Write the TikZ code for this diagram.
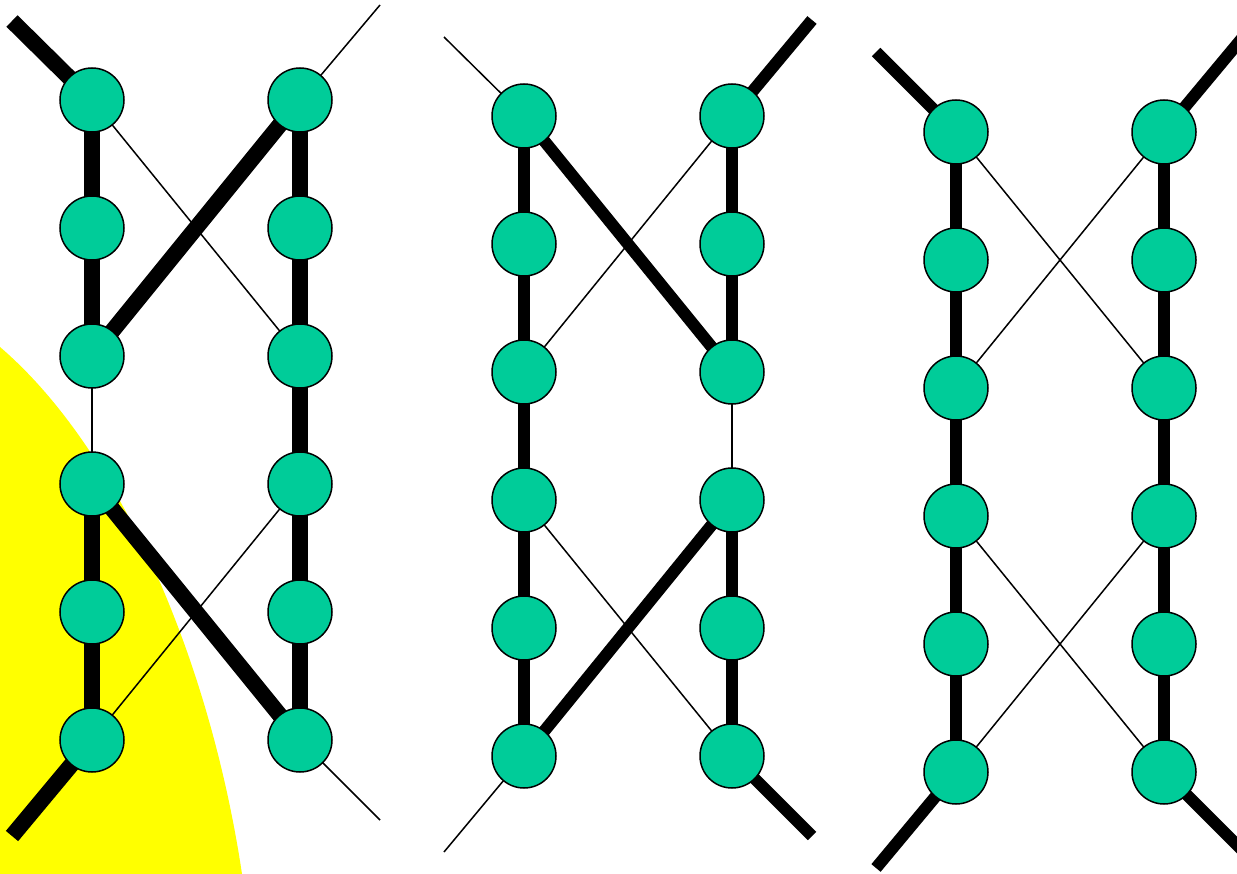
\documentclass[tikz,border=0pt]{standalone}
\usetikzlibrary{backgrounds}
\definecolor{nodegreen}{RGB}{0,204,153}
\definecolor{hiyellow}{RGB}{255,255,0}
\begin{document}
\begin{tikzpicture}[x=1pt,y=-1pt,
  dot/.style={circle,draw=black,line width=1.5pt,fill=nodegreen,minimum size=64pt,inner sep=0pt},
  fineline/.style={draw=black,line width=1.5pt},
  heavyA/.style={draw=black,line width=16pt},
  heavyB/.style={draw=black,line width=12pt}]
\useasboundingbox (0,0) rectangle (1237,874);
\clip (0,0) rectangle (1237,874);
% nodes
\foreach \p/\lx/\ty in {1/92/100, 2/524/116, 3/956/132} {
  \foreach \i in {1,...,6} {
    \node[dot] (p\p L\i) at (\lx, {\ty+128*(\i-1)}) {};
    \node[dot] (p\p R\i) at ({\lx+208}, {\ty+128*(\i-1)}) {};
  }
}
% free ends
\coordinate (p1TL) at (12,21);
\coordinate (p1TR) at (380,5);
\coordinate (p1BL) at (12,836);
\coordinate (p1BR) at (380,820);
\coordinate (p2TL) at (444,37);
\coordinate (p2TR) at (812,20);
\coordinate (p2BL) at (444,852);
\coordinate (p2BR) at (812,836);
\coordinate (p3TL) at (876,52);
\coordinate (p3TR) at (1244,36);
\coordinate (p3BL) at (876,868);
\coordinate (p3BR) at (1244,852);
\begin{scope}[on background layer]
  \fill[hiyellow] (0,347) .. controls (120,450) and (210,660) .. (242,874) -- (244,880) -- (0,880) -- cycle;
  % panel 1
  \draw[heavyA] (p1TL) -- (p1L1.center);
  \draw[fineline] (p1TR) -- (p1R1.center);
  \draw[heavyA] (p1L6.center) -- (p1BL);
  \draw[fineline] (p1R6.center) -- (p1BR);
  \draw[heavyA] (p1L1.center) -- (p1L2.center);
  \draw[heavyA] (p1L2.center) -- (p1L3.center);
  \draw[fineline] (p1L3.center) -- (p1L4.center);
  \draw[heavyA] (p1L4.center) -- (p1L5.center);
  \draw[heavyA] (p1L5.center) -- (p1L6.center);
  \foreach \i/\j in {1/2,2/3,3/4,4/5,5/6} {
    \draw[heavyA] (p1R\i.center) -- (p1R\j.center);
  }
  \draw[fineline] (p1L1.center) -- (p1R3.center);
  \draw[heavyA] (p1L3.center) -- (p1R1.center);
  \draw[heavyA] (p1L4.center) -- (p1R6.center);
  \draw[fineline] (p1R4.center) -- (p1L6.center);
  % panel 2
  \draw[fineline] (p2TL) -- (p2L1.center);
  \draw[heavyB] (p2TR) -- (p2R1.center);
  \draw[fineline] (p2L6.center) -- (p2BL);
  \draw[heavyB] (p2R6.center) -- (p2BR);
  \foreach \i/\j in {1/2,2/3,3/4,4/5,5/6} {
    \draw[heavyB] (p2L\i.center) -- (p2L\j.center);
  }
  \draw[heavyB] (p2R1.center) -- (p2R2.center);
  \draw[heavyB] (p2R2.center) -- (p2R3.center);
  \draw[fineline] (p2R3.center) -- (p2R4.center);
  \draw[heavyB] (p2R4.center) -- (p2R5.center);
  \draw[heavyB] (p2R5.center) -- (p2R6.center);
  \draw[heavyB] (p2L1.center) -- (p2R3.center);
  \draw[fineline] (p2R1.center) -- (p2L3.center);
  \draw[fineline] (p2L4.center) -- (p2R6.center);
  \draw[heavyB] (p2R4.center) -- (p2L6.center);
  % panel 3
  \draw[heavyB] (p3TL) -- (p3L1.center);
  \draw[heavyB] (p3TR) -- (p3R1.center);
  \draw[heavyB] (p3L6.center) -- (p3BL);
  \draw[heavyB] (p3R6.center) -- (p3BR);
  \foreach \i/\j in {1/2,2/3,3/4,4/5,5/6} {
    \draw[heavyB] (p3L\i.center) -- (p3L\j.center);
    \draw[heavyB] (p3R\i.center) -- (p3R\j.center);
  }
  \draw[fineline] (p3L1.center) -- (p3R3.center);
  \draw[fineline] (p3R1.center) -- (p3L3.center);
  \draw[fineline] (p3L4.center) -- (p3R6.center);
  \draw[fineline] (p3R4.center) -- (p3L6.center);
\end{scope}
\end{tikzpicture}
\end{document}
